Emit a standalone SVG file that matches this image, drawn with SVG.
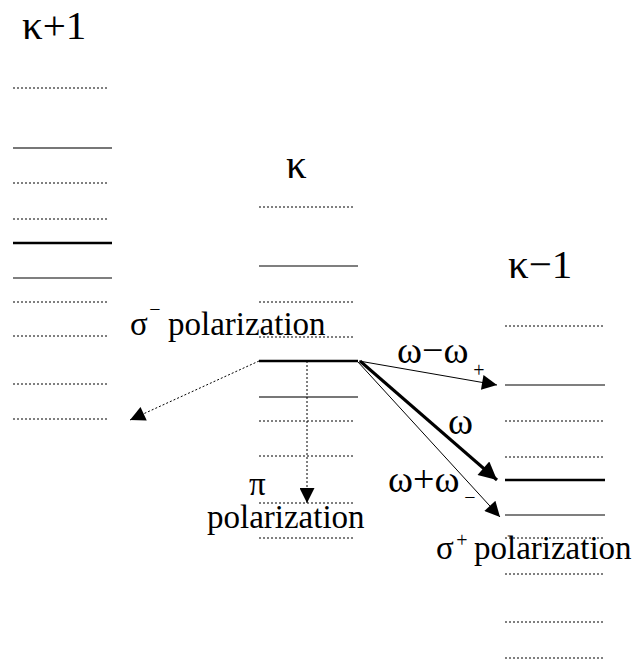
<svg xmlns="http://www.w3.org/2000/svg" width="638" height="664" viewBox="0 0 638 664">
<style>
text{font-family:"Liberation Serif","Times New Roman",serif;fill:#000}
.big{font-size:41px}
.lab{font-size:33px}
.om{font-size:38px}
.sup{font-size:20px;text-anchor:middle}
.dot{stroke:#000;stroke-width:1;stroke-dasharray:2 2;fill:none}
.sol{stroke:#000;stroke-width:1.2;fill:none}
.gry{stroke:#777;stroke-width:1.8;fill:none}
.thk{stroke:#000;stroke-width:2.5;fill:none}
</style>
<defs>
<marker id="ah" viewBox="0 0 10 10" refX="10" refY="5" markerWidth="20" markerHeight="15" markerUnits="userSpaceOnUse" orient="auto"><path d="M0,0L10,5L0,10z" fill="#000"/></marker>
<marker id="ahb" viewBox="0 0 10 10" refX="10" refY="5" markerWidth="22" markerHeight="18" markerUnits="userSpaceOnUse" orient="auto"><path d="M0,0L10,5L0,10z" fill="#000"/></marker>
</defs>
<g id="level-k-plus-1">
<text class="big" x="22" y="39">κ+1</text>
<line class="dot" x1="13" y1="88" x2="109" y2="88"/>
<line class="gry" x1="13" y1="148" x2="112" y2="148"/>
<line class="dot" x1="13" y1="183" x2="109" y2="183"/>
<line class="dot" x1="13" y1="219" x2="109" y2="219"/>
<line class="thk" x1="13" y1="243" x2="112" y2="243"/>
<line class="sol" x1="13" y1="278" x2="112" y2="278"/>
<line class="dot" x1="13" y1="302" x2="109" y2="302"/>
<line class="dot" x1="13" y1="336" x2="109" y2="336"/>
<line class="dot" x1="13" y1="384" x2="109" y2="384"/>
<line class="dot" x1="13" y1="419" x2="109" y2="419"/>
</g>
<g id="level-k">
<text class="big" x="286" y="178">κ</text>
<line class="dot" x1="259" y1="207" x2="355" y2="207"/>
<line class="sol" x1="259" y1="266" x2="358" y2="266"/>
<line class="dot" x1="259" y1="302" x2="355" y2="302"/>
<line class="dot" x1="259" y1="337" x2="355" y2="337"/>
<line class="thk" x1="259" y1="361" x2="358" y2="361"/>
<line class="gry" x1="259" y1="397" x2="358" y2="397"/>
<line class="dot" x1="259" y1="421" x2="355" y2="421"/>
<line class="dot" x1="259" y1="456" x2="355" y2="456"/>
<line class="dot" x1="259" y1="503" x2="355" y2="503"/>
<line class="dot" x1="259" y1="538" x2="355" y2="538"/>
</g>
<g id="level-k-minus-1">
<text class="big" x="508" y="278">κ−1</text>
<line class="dot" x1="505" y1="326" x2="605" y2="326"/>
<line class="sol" x1="505" y1="385" x2="605" y2="385"/>
<line class="dot" x1="505" y1="421" x2="605" y2="421"/>
<line class="dot" x1="505" y1="457" x2="605" y2="457"/>
<line class="thk" x1="505" y1="480" x2="605" y2="480"/>
<line class="sol" x1="505" y1="515" x2="605" y2="515"/>
<line class="dot" x1="505" y1="538" x2="605" y2="538"/>
<line class="dot" x1="505" y1="574" x2="605" y2="574"/>
<line class="dot" x1="505" y1="622" x2="605" y2="622"/>
<line class="dot" x1="505" y1="658" x2="605" y2="658"/>
</g>
<g id="connectors">
<line class="dot" x1="259" y1="361" x2="130" y2="420" marker-end="url(#ah)"/>
<line class="dot" x1="307" y1="361" x2="307" y2="503" marker-end="url(#ah)"/>
<line stroke="#000" stroke-width="1" x1="359" y1="361" x2="497" y2="385" marker-end="url(#ah)"/>
<line stroke="#000" stroke-width="3" x1="360" y1="361" x2="497" y2="480" marker-end="url(#ahb)"/>
<line stroke="#000" stroke-width="1" x1="358" y1="362" x2="500" y2="517" marker-end="url(#ah)"/>
</g>
<g id="labels">
<text class="lab" x="130" y="335">σ</text><text class="sup" x="155" y="316">−</text><text class="lab" x="168" y="335">polarization</text>
<text class="lab" x="249" y="495">π</text>
<text class="lab" x="207" y="528">polarization</text>
<text class="om" x="397" y="363">ω−ω</text><text class="sup" x="479" y="377">+</text>
<text class="om" x="448" y="434">ω</text>
<text class="om" x="388" y="492">ω+ω</text><text class="sup" x="470" y="504">−</text>
<text class="lab" x="436" y="559">σ</text><text class="sup" x="462" y="547">+</text><text class="lab" x="474" y="559">polarization</text>
</g>
</svg>
